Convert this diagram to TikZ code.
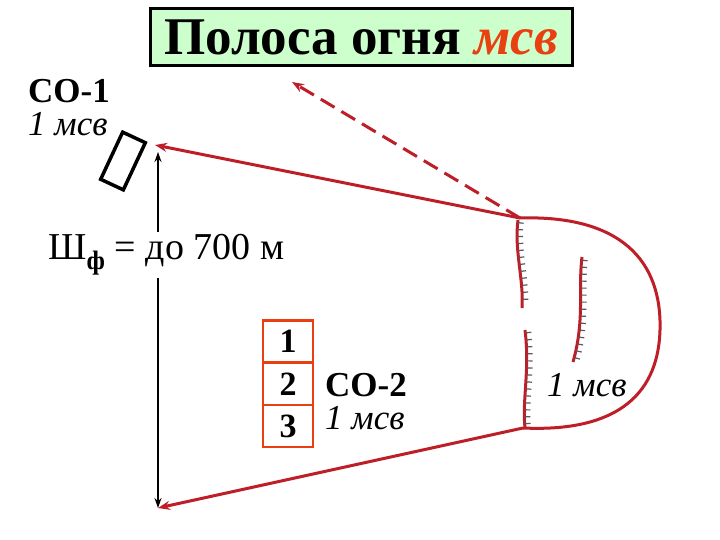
\documentclass[tikz,border=0pt]{standalone}
\usepackage{fontspec}
\setmainfont{Liberation Serif}
\usetikzlibrary{arrows.meta,decorations.markings}
\definecolor{dred}{RGB}{190,30,40}
\definecolor{ored}{RGB}{232,64,16}
\definecolor{lgreen}{RGB}{204,255,204}
\tikzset{
  redline/.style={draw=dred,line width=3pt},
  redarrow/.style={redline,-{Stealth[length=12pt,width=9pt]}},
  trench/.style={draw=dred,line width=3pt,
    postaction={decorate,decoration={markings,
      mark=between positions 0.03 and 0.97 step 7pt with {\draw[gray!70!black,line width=1.2pt] (0,0) -- (0,6pt);}}}},
  numbox/.style={draw=ored,line width=2.5pt,minimum width=50pt,minimum height=42pt,inner sep=0pt,font=\bfseries\fontsize{34}{34}\selectfont}
}
\begin{document}
\begin{tikzpicture}[x=1pt,y=-1pt]
\useasboundingbox[fill=white] (0,0) rectangle (720,540);
\node[draw=black,line width=3pt,fill=lgreen,minimum width=422pt,minimum height=57pt,inner sep=0pt,font=\bfseries\fontsize{53}{53}\selectfont] (title) at (361,37) {Полоса огня \textcolor{ored}{\itshape мсв}};
\node[anchor=west,font=\bfseries\fontsize{35}{35}\selectfont,inner sep=0pt] (co1) at (28,91) {CO-1};
\node[anchor=west,font=\itshape\fontsize{35}{35}\selectfont,inner sep=0pt] (co1b) at (28,124) {1 мсв};
\node[draw=black,line width=3.5pt,minimum width=25pt,minimum height=52pt,rotate=-25] (post) at (123,161) {};
\coordinate (tA) at (520,218);
\coordinate (tB) at (523,428);
\coordinate (lt) at (155,145);
\coordinate (lb) at (158,508);
\coordinate (dt) at (292,82);
\node[fill=white,anchor=west,inner sep=2pt,font=\fontsize{38}{38}\selectfont] (shf) at (46,255) {Ш\textsubscript{\bfseries ф} = до 700 м};
\draw[line width=2pt,{Stealth[length=10pt,width=7pt]}-] (158,152) -- (shf.north -| 158,0);
\draw[line width=2pt,-{Stealth[length=10pt,width=7pt]}] (shf.south -| 158,0) -- (lb);
\draw[redarrow] (tA) -- (lt);
\draw[redarrow,dash pattern=on 16pt off 8pt] (tA) -- (dt);
\draw[redarrow] (tB) -- (lb);
\draw[redline] (tA) .. controls (620,215) and (662,260) .. (660,330)
  .. controls (658,400) and (610,432) .. (tB);
\draw[trench] (518,220) .. controls (514,250) and (524,280) .. (522,308);
\draw[trench] (525,330) .. controls (530,370) and (522,400) .. (525,428);
\draw[trench] (582,257) .. controls (578,290) and (585,320) .. (573,362);
\node[numbox] (n1) at (288,341.5) {1};
\node[numbox] (n2) at (288,384) {2};
\node[numbox] (n3) at (288,426) {3};
\node[anchor=west,font=\bfseries\fontsize{35}{35}\selectfont,inner sep=0pt] (co2) at (325,385) {CO-2};
\node[anchor=west,font=\itshape\fontsize{35}{35}\selectfont,inner sep=0pt] (co2b) at (325,418) {1 мсв};
\node[anchor=west,font=\itshape\fontsize{35}{35}\selectfont,inner sep=0pt] (msv) at (547,385) {1 мсв};
\end{tikzpicture}
\end{document}
